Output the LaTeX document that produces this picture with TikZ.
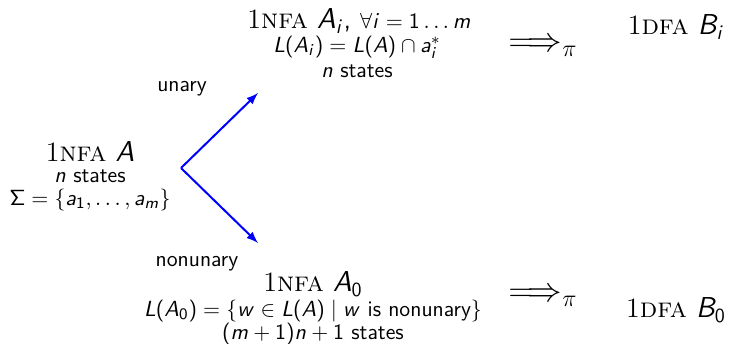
\documentclass[tikz,border=0pt]{standalone}
\usetikzlibrary{arrows}

% sans serif letters and digits in math, as on the slides
\DeclareSymbolFont{sfletters}{OT1}{cmss}{m}{it}
\DeclareSymbolFont{sfoperators}{OT1}{cmss}{m}{n}
\makeatletter
\@tempcnta=`a
\loop
  \mathcode\@tempcnta=\numexpr "7000+\symsfletters*"100+\@tempcnta\relax
  \mathcode\numexpr\@tempcnta-32\relax=\numexpr "7000+\symsfletters*"100+\@tempcnta-32\relax
  \advance\@tempcnta by 1
\ifnum\@tempcnta<\numexpr`z+1\relax\repeat
\@tempcnta=`0
\loop
  \mathcode\@tempcnta=\numexpr "7000+\symsfoperators*"100+\@tempcnta\relax
  \advance\@tempcnta by 1
\ifnum\@tempcnta<\numexpr`9+1\relax\repeat
\mathcode`(=\numexpr "4000+\symsfoperators*"100+`(\relax
\mathcode`)=\numexpr "5000+\symsfoperators*"100+`)\relax
\mathcode`==\numexpr "3000+\symsfoperators*"100+`=\relax
\mathcode`+=\numexpr "2000+\symsfoperators*"100+`+\relax
\makeatother
\DeclareMathSymbol{\Sigma}{\mathalpha}{sfoperators}{"06}

\newcommand{\nfa}{\textrm{1\textsc{nfa}}}
\newcommand{\dfa}{\textrm{1\textsc{dfa}}}

\tikzset{
  bigtext/.style={font=\fontsize{14}{16}\selectfont\sffamily, inner sep=0pt},
  smalltext/.style={font=\fontsize{11.1}{13}\selectfont\sffamily, inner sep=0pt},
  impl/.style={font=\fontsize{16.8}{18}\selectfont, inner sep=0pt},
  split/.style={->, >=latex, blue, line width=1pt},
}

\begin{document}
\begin{tikzpicture}[x=0.5pt, y=-0.5pt]
  \useasboundingbox (0,0) rectangle (731,343);

  % the given automaton
  \node[bigtext] (A) at (90,151) {\nfa\ $A$};
  \node[smalltext] (Astates) at (90,176) {$n$ states};
  \node[smalltext] (Asigma) at (90,200) {$\Sigma=\{a_1,\dots,a_m\}$};

  % splitting into unary and nonunary parts
  \coordinate (fork) at (181,168);
  \coordinate (up) at (258,93);
  \coordinate (down) at (258,243);
  \draw[split] (fork) -- (up);
  \draw[split] (fork) -- (down);
  \node[smalltext] (unary) at (182,89) {unary};
  \node[smalltext] (nonunary) at (197,264) {nonunary};

  % unary part
  \node[bigtext] (Ai) at (359,21) {\nfa\ $A_i$, {\fontsize{11}{13}\selectfont$\forall i=1\dots m$}};
  \node[smalltext] (Ailang) at (357,47) {$L(A_i)=L(A)\cap a_i^*$};
  \node[smalltext] (Aistates) at (357,71) {$n$ states};
  \node[impl] (toBi) at (543,48) {$\Longrightarrow_{\pi}$};
  \node[bigtext] (Bi) at (676,27) {\dfa\ $B_i$};

  % nonunary part
  \node[bigtext] (A0) at (313,284) {\nfa\ $A_0$};
  \node[smalltext] (A0lang) at (313,311) {$L(A_0)=\{w\in L(A)\mid w \mbox{ is nonunary}\}$};
  \node[smalltext] (A0states) at (313,334) {$(m+1)n+1$ states};
  \node[impl] (toB0) at (543,298) {$\Longrightarrow_{\pi}$};
  \node[bigtext] (B0) at (676,310) {\dfa\ $B_0$};
\end{tikzpicture}
\end{document}
